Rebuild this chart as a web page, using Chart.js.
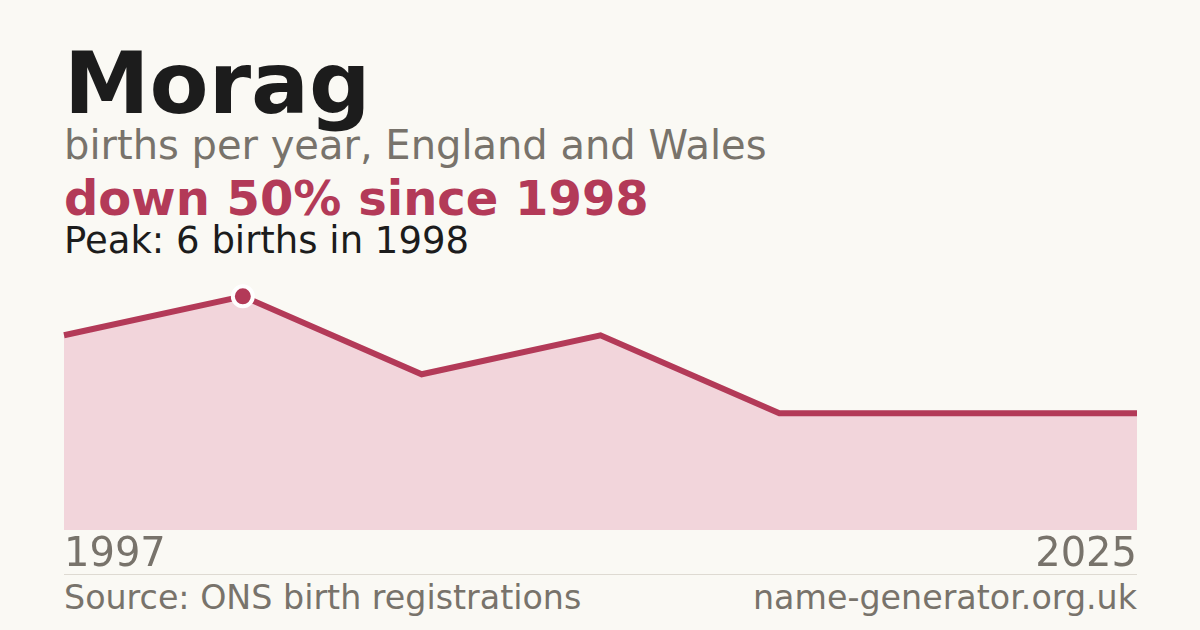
<!DOCTYPE html>
<html>
<head>
<meta charset="utf-8">
<script src="https://cdn.jsdelivr.net/npm/chart.js@4/dist/chart.umd.min.js"></script>
<style>
  body {
    margin: 0;
    width: 1200px;
    height: 630px;
    background: #faf9f4;
    font-family: "DejaVu Sans", sans-serif;
    position: relative;
    overflow: hidden;
  }
  .txt { position: absolute; left: 64px; line-height: 1; white-space: nowrap; }
  #title { top: 40px; font-size: 86px; font-weight: bold; color: #1c1c1c; }
  #subtitle { top: 125px; font-size: 40px; color: #78736b; }
  #change { top: 174px; font-size: 48px; font-weight: bold; color: #b33a58; }
  #peak { top: 222px; font-size: 37px; color: #1c1c1c; }
  #rule { position: absolute; left: 64px; top: 574px; width: 1073px; height: 1px; background: #dedad2; }
  .foot { top: 581px; font-size: 33.3px; color: #78736b; }
  #site { left: auto; right: 63px; }
  /* canvas is a bit wider on each side: Chart.js pads the plot for the line width */
  #wrap { position: absolute; left: 62px; top: 273px; width: 1077px; height: 301px; }
</style>
</head>
<body>
<div class="txt" id="title">Morag</div>
<div class="txt" id="subtitle">births per year, England and Wales</div>
<div class="txt" id="change">down 50% since 1998</div>
<div class="txt" id="peak">Peak: 6 births in 1998</div>
<div id="wrap"><canvas id="chart"></canvas></div>
<div id="rule"></div>
<div class="txt foot" id="source">Source: ONS birth registrations</div>
<div class="txt foot" id="site">name-generator.org.uk</div>

<script>
// years with recorded births (only first and last are labelled)
const years = ["1997", "1998", "2002", "2006", "2011", "2018", "2025"];
const births = [5, 6, 4, 5, 3, 3, 3];

const red = "#b33a58";
const peakValue = Math.max(...births);
const peakIndex = births.indexOf(peakValue);

new Chart(document.getElementById("chart"), {
  type: "line",
  data: {
    labels: years,
    datasets: [
      {
        data: births,
        borderColor: red,
        borderWidth: 6,
        backgroundColor: "#f2d5db",
        fill: "origin",
        tension: 0,
        pointRadius: (ctx) => (ctx.dataIndex === peakIndex ? 10 : 0),
        pointHoverRadius: 0,
        pointBackgroundColor: red,
        pointBorderColor: "#ffffff",
        pointBorderWidth: 4,
      },
    ],
  },
  options: {
    responsive: true,
    maintainAspectRatio: false,
    animation: false,
    plugins: { legend: { display: false }, tooltip: { enabled: false } },
    scales: {
      x: {
        grid: { display: false, drawTicks: false },
        border: { display: false },
        ticks: {
          autoSkip: false,
          maxRotation: 0,
          align: "inner",
          padding: 2,
          color: "#78736b",
          font: { family: "DejaVu Sans", size: 40 },
          callback: (v, i) => (i === 0 || i === years.length - 1 ? years[i] : ""),
        },
        afterFit: (scale) => {
          scale.height = 44;
        },
      },
      y: {
        display: false,
        min: 0,
        max: peakValue * 1.1,
      },
    },
  },
});
</script>
</body>
</html>
